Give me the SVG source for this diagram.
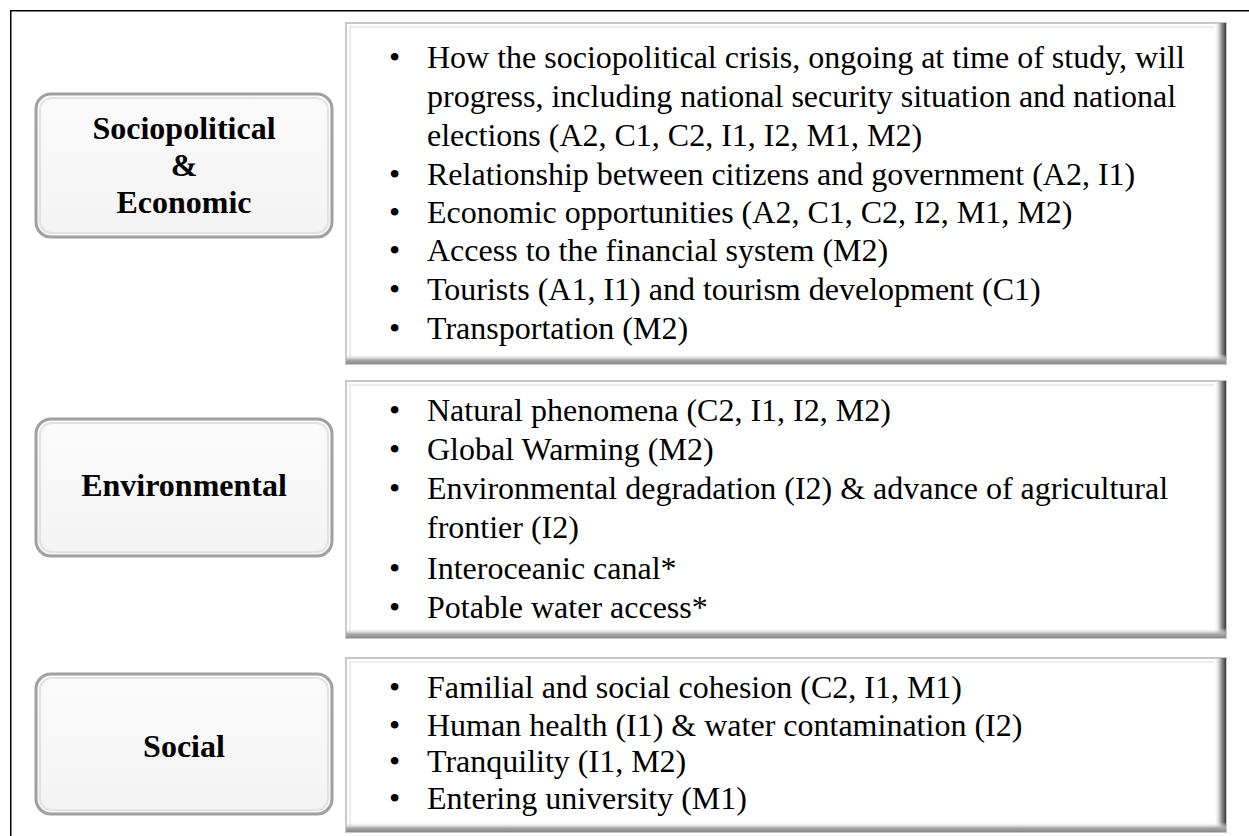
<svg xmlns="http://www.w3.org/2000/svg" width="1249" height="836" viewBox="0 0 1249 836">
  <style>
    .frame { fill: none; stroke: #000; stroke-width: 1.5; }
    .tag { stroke: #a0a0a0; stroke-width: 3; }
    .tag-hi { fill: none; stroke: #e2e2e2; stroke-width: 2; }
    .tag-label { font-family: "Liberation Serif", "Times New Roman", serif; font-weight: bold; font-size: 32px; fill: #000; text-anchor: middle; }
    .panel { fill: #fff; stroke: #c8c8c8; stroke-width: 2; }
    .panel-in { fill: none; stroke: #e6e6e6; stroke-width: 1.5; }
    .item { font-family: "Liberation Serif", "Times New Roman", serif; font-size: 32px; fill: #000; }
  </style>
  <defs>
    <linearGradient id="edgeRight" x1="0" y1="0" x2="1" y2="0">
      <stop offset="0" stop-color="#ffffff" stop-opacity="0"/>
      <stop offset="0.6" stop-color="#9a9a9a"/>
      <stop offset="1" stop-color="#3a3a3a"/>
    </linearGradient>
    <linearGradient id="edgeBottom" x1="0" y1="0" x2="0" y2="1">
      <stop offset="0" stop-color="#ffffff" stop-opacity="0"/>
      <stop offset="0.6" stop-color="#a8a8a8"/>
      <stop offset="1" stop-color="#8a8a8a"/>
    </linearGradient>
    <linearGradient id="tagShade" x1="0" y1="0" x2="0" y2="1">
      <stop offset="0" stop-color="#fbfbfb"/>
      <stop offset="1" stop-color="#f3f3f3"/>
    </linearGradient>
  </defs>

  <rect width="1249" height="836" fill="#fff"/>
  <!-- outer frame, open at right and bottom edges of the page -->
  <path class="frame" d="M10.75 836 V10.75 H1249"/>

  <!-- category tags -->
  <g id="tag-sociopolitical">
    <rect class="tag" x="36" y="94" width="296" height="143" rx="15" fill="url(#tagShade)"/>
    <rect class="tag-hi" x="40" y="98" width="288" height="135" rx="12"/>
    <text class="tag-label" x="184" y="139">Sociopolitical</text>
    <text class="tag-label" x="184" y="176">&amp;</text>
    <text class="tag-label" x="184" y="213">Economic</text>
  </g>
  <g id="tag-environmental">
    <rect class="tag" x="36" y="419" width="296" height="137" rx="15" fill="url(#tagShade)"/>
    <rect class="tag-hi" x="40" y="423" width="288" height="129" rx="12"/>
    <text class="tag-label" x="184" y="496">Environmental</text>
  </g>
  <g id="tag-social">
    <rect class="tag" x="36" y="674" width="296" height="140" rx="15" fill="url(#tagShade)"/>
    <rect class="tag-hi" x="40" y="678" width="288" height="132" rx="12"/>
    <text class="tag-label" x="184" y="757">Social</text>
  </g>

  <!-- detail panels -->
  <g id="panel-sociopolitical">
    <rect class="panel" x="346" y="23" width="880" height="341"/>
    <path class="panel-in" d="M350 360 V27 H1214"/>
    <rect x="1214" y="23" width="12" height="341" fill="url(#edgeRight)"/>
    <rect x="346" y="354" width="880" height="10" fill="url(#edgeBottom)"/>
    <g class="item">
      <text x="389" y="68">•</text><text x="427" y="68">How the sociopolitical crisis, ongoing at time of study, will</text>
      <text x="427" y="107">progress, including national security situation and national</text>
      <text x="427" y="146">elections (A2, C1, C2, I1, I2, M1, M2)</text>
      <text x="389" y="185">•</text><text x="427" y="185">Relationship between citizens and government (A2, I1)</text>
      <text x="389" y="223">•</text><text x="427" y="223">Economic opportunities (A2, C1, C2, I2, M1, M2)</text>
      <text x="389" y="261">•</text><text x="427" y="261">Access to the financial system (M2)</text>
      <text x="389" y="300">•</text><text x="427" y="300">Tourists (A1, I1) and tourism development (C1)</text>
      <text x="389" y="339">•</text><text x="427" y="339">Transportation (M2)</text>
    </g>
  </g>
  <g id="panel-environmental">
    <rect class="panel" x="346" y="381" width="880" height="257"/>
    <path class="panel-in" d="M350 634 V385 H1214"/>
    <rect x="1214" y="381" width="12" height="257" fill="url(#edgeRight)"/>
    <rect x="346" y="628" width="880" height="10" fill="url(#edgeBottom)"/>
    <g class="item">
      <text x="389" y="421">•</text><text x="427" y="421">Natural phenomena (C2, I1, I2, M2)</text>
      <text x="389" y="460">•</text><text x="427" y="460">Global Warming (M2)</text>
      <text x="389" y="499">•</text><text x="427" y="499">Environmental degradation (I2) &amp; advance of agricultural</text>
      <text x="427" y="538">frontier (I2)</text>
      <text x="389" y="579">•</text><text x="427" y="579">Interoceanic canal*</text>
      <text x="389" y="618">•</text><text x="427" y="618">Potable water access*</text>
    </g>
  </g>
  <g id="panel-social">
    <rect class="panel" x="346" y="658" width="880" height="174"/>
    <path class="panel-in" d="M350 828 V662 H1214"/>
    <rect x="1214" y="658" width="12" height="174" fill="url(#edgeRight)"/>
    <rect x="346" y="822" width="880" height="10" fill="url(#edgeBottom)"/>
    <g class="item">
      <text x="389" y="698">•</text><text x="427" y="698">Familial and social cohesion (C2, I1, M1)</text>
      <text x="389" y="736">•</text><text x="427" y="736">Human health (I1) &amp; water contamination (I2)</text>
      <text x="389" y="772">•</text><text x="427" y="772">Tranquility (I1, M2)</text>
      <text x="389" y="809">•</text><text x="427" y="809">Entering university (M1)</text>
    </g>
  </g>

  <g id="connectors"/>
</svg>
